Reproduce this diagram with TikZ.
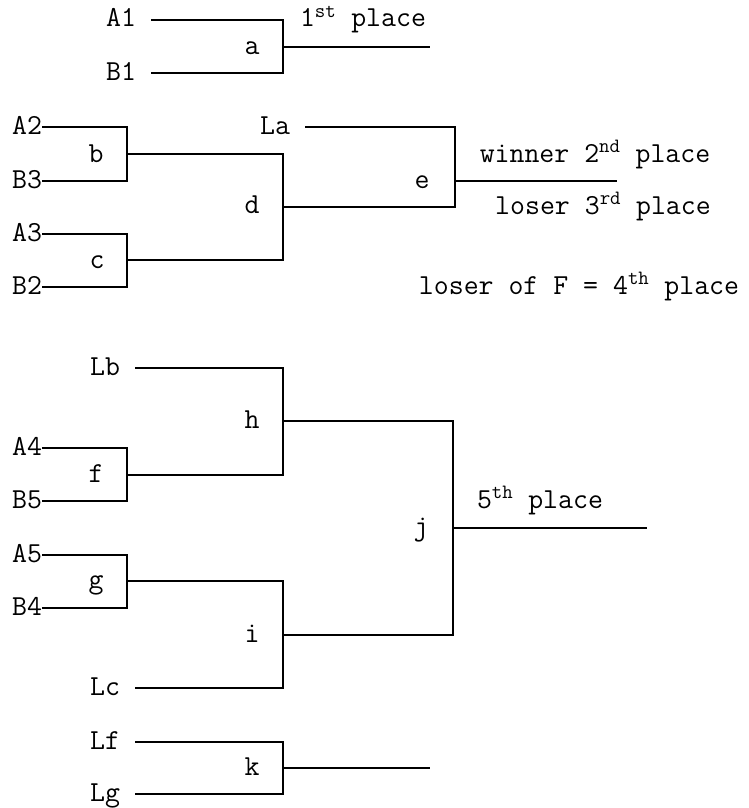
\documentclass[tikz,border=0pt]{standalone}
\usepackage{fontspec}
\usetikzlibrary{%
	calc,%
	positioning,%
}
\tikzset{
	nodes={align=center},%
	txt/.style={%
			font={\ttfamily\fontsize{29}{34}\selectfont},%
			inner sep=0,%
			outer sep=0},%
	player/.style={%
			txt,%
			anchor=base east,%
			yshift=-7pt},%
	matchname/.style={%
			txt,%
			anchor=base},%
	placename/.style={%
			txt,%
			anchor=base},%
	bracket/.style={%
			line width=1.8pt},%
	lineend/.style={%
			yshift=7pt},%
}

\begin{document}
\begin{tikzpicture}[x=1pt, y=-1pt]%
	\useasboundingbox (0,0) rectangle (748,808);

	% final
	\node[player] (A1) at (151,20) {A1~};
	\node[player] (B1) at (151,73) {B1~};
	\coordinate (ja) at (283,47);
	\coordinate (outa) at (430,47);
	\node[matchname] (a) at (252,55) {a};
	\node[placename] (first) at (363,27) {1\textsuperscript{st} place};

	% semi finals
	\node[player] (A2) at (42,127) {A2};
	\node[player] (B3) at (42,181) {B3};
	\node[player] (A3) at (42,234) {A3};
	\node[player] (B2) at (42,287) {B2};
	\node[player] (La) at (305,127) {La~};
	\coordinate (jb) at (127,154);
	\coordinate (jc) at (127,260);
	\coordinate (jd) at (283,207);
	\coordinate (je) at (455,181);
	\coordinate (oute) at (617,181);
	\node[matchname] (b) at (96,162) {b};
	\node[matchname] (c) at (97,268) {c};
	\node[matchname] (d) at (252,213) {d};
	\node[matchname] (e) at (422,188) {e};
	\node[placename] (second) at (595,162) {winner 2\textsuperscript{nd} place};
	\node[placename] (third) at (603,214) {loser 3\textsuperscript{rd} place};
	\node[placename] (fourth) at (579,294) {loser of F = 4\textsuperscript{th} place};

	% fifth place
	\node[player] (Lb) at (135,368) {Lb~};
	\node[player] (A4) at (42,448) {A4};
	\node[player] (B5) at (42,501) {B5};
	\node[player] (A5) at (42,555) {A5};
	\node[player] (B4) at (42,608) {B4};
	\node[player] (Lc) at (135,688) {Lc~};
	\coordinate (jf) at (127,475);
	\coordinate (jg) at (127,581);
	\coordinate (jh) at (283,421);
	\coordinate (ji) at (283,635);
	\coordinate (jj) at (453,528);
	\coordinate (outj) at (647,528);
	\node[matchname] (f) at (96,482) {f};
	\node[matchname] (g) at (96,588) {g};
	\node[matchname] (h) at (252,428) {h};
	\node[matchname] (i) at (252,642) {i};
	\node[matchname] (j) at (421,535) {j};
	\node[placename] (fifth) at (540,508) {5\textsuperscript{th} place};

	% losers f, g
	\node[player] (Lf) at (135,742) {Lf~};
	\node[player] (Lg) at (135,794) {Lg~};
	\coordinate (jk) at (283,768);
	\coordinate (outk) at (430,768);
	\node[matchname] (k) at (252,775) {k};

	\draw[bracket] ([lineend]A1.base east) -| (ja) |- ([lineend]B1.base east);
	\draw[bracket] (ja) -- (outa);
	\draw[bracket] ([lineend]A2.base east) -| (jb) |- ([lineend]B3.base east);
	\draw[bracket] ([lineend]A3.base east) -| (jc) |- ([lineend]B2.base east);
	\draw[bracket] (jb) -| (jd) |- (jc);
	\draw[bracket] ([lineend]La.base east) -| (je) |- (jd);
	\draw[bracket] (je) -- (oute);
	\draw[bracket] ([lineend]A4.base east) -| (jf) |- ([lineend]B5.base east);
	\draw[bracket] ([lineend]A5.base east) -| (jg) |- ([lineend]B4.base east);
	\draw[bracket] ([lineend]Lb.base east) -| (jh) |- (jf);
	\draw[bracket] (jg) -| (ji) |- ([lineend]Lc.base east);
	\draw[bracket] (jh) -| (jj) |- (ji);
	\draw[bracket] (jj) -- (outj);
	\draw[bracket] ([lineend]Lf.base east) -| (jk) |- ([lineend]Lg.base east);
	\draw[bracket] (jk) -- (outk);
\end{tikzpicture}
\end{document}
